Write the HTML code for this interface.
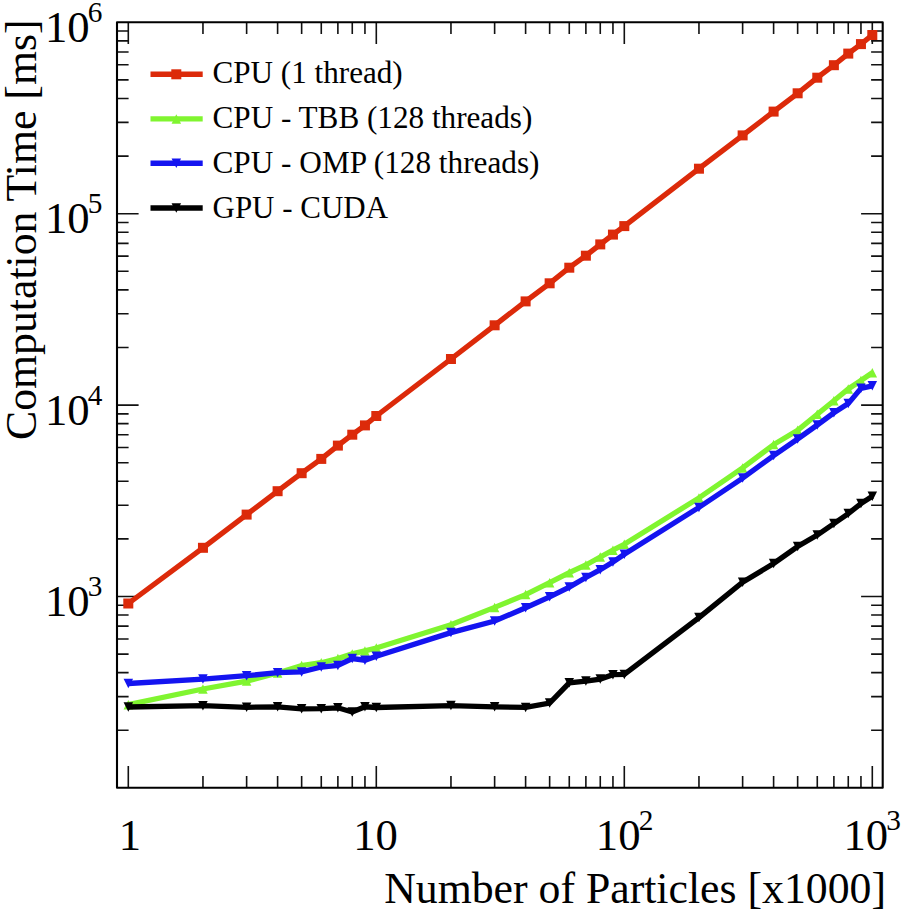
<!DOCTYPE html>
<html><head><meta charset="utf-8"><style>
html,body{margin:0;padding:0;background:#fff;}
svg{display:block;}
text{font-family:"Liberation Serif",serif;fill:#000;}
.ax{font-size:44.7px;}
.sup{font-size:29.3px;}
.lg{font-size:31px;}
.ti{font-size:43.75px;}
</style></head><body>
<svg width="901" height="914" viewBox="0 0 901 914">
<rect width="901" height="914" fill="#fff"/>
<path d="M128.30 787.70V766.10M128.30 22.30V43.90M202.96 787.70V776.10M202.96 22.30V33.90M246.63 787.70V776.10M246.63 22.30V33.90M277.61 787.70V776.10M277.61 22.30V33.90M301.64 787.70V776.10M301.64 22.30V33.90M321.28 787.70V776.10M321.28 22.30V33.90M337.88 787.70V776.10M337.88 22.30V33.90M352.27 787.70V776.10M352.27 22.30V33.90M364.95 787.70V776.10M364.95 22.30V33.90M376.30 787.70V766.10M376.30 22.30V43.90M450.96 787.70V776.10M450.96 22.30V33.90M494.63 787.70V776.10M494.63 22.30V33.90M525.61 787.70V776.10M525.61 22.30V33.90M549.64 787.70V776.10M549.64 22.30V33.90M569.28 787.70V776.10M569.28 22.30V33.90M585.88 787.70V776.10M585.88 22.30V33.90M600.27 787.70V776.10M600.27 22.30V33.90M612.95 787.70V776.10M612.95 22.30V33.90M624.30 787.70V766.10M624.30 22.30V43.90M698.96 787.70V776.10M698.96 22.30V33.90M742.63 787.70V776.10M742.63 22.30V33.90M773.61 787.70V776.10M773.61 22.30V33.90M797.64 787.70V776.10M797.64 22.30V33.90M817.28 787.70V776.10M817.28 22.30V33.90M833.88 787.70V776.10M833.88 22.30V33.90M848.27 787.70V776.10M848.27 22.30V33.90M860.95 787.70V776.10M860.95 22.30V33.90M872.30 787.70V766.10M872.30 22.30V43.90M117.00 730.28H128.60M882.70 730.28H871.10M117.00 696.58H128.60M882.70 696.58H871.10M117.00 672.67H128.60M882.70 672.67H871.10M117.00 654.12H128.60M882.70 654.12H871.10M117.00 638.96H128.60M882.70 638.96H871.10M117.00 626.15H128.60M882.70 626.15H871.10M117.00 615.05H128.60M882.70 615.05H871.10M117.00 605.26H128.60M882.70 605.26H871.10M117.00 596.50H138.60M882.70 596.50H861.10M117.00 538.88H128.60M882.70 538.88H871.10M117.00 505.18H128.60M882.70 505.18H871.10M117.00 481.27H128.60M882.70 481.27H871.10M117.00 462.72H128.60M882.70 462.72H871.10M117.00 447.56H128.60M882.70 447.56H871.10M117.00 434.75H128.60M882.70 434.75H871.10M117.00 423.65H128.60M882.70 423.65H871.10M117.00 413.86H128.60M882.70 413.86H871.10M117.00 405.10H138.60M882.70 405.10H861.10M117.00 347.48H128.60M882.70 347.48H871.10M117.00 313.78H128.60M882.70 313.78H871.10M117.00 289.87H128.60M882.70 289.87H871.10M117.00 271.32H128.60M882.70 271.32H871.10M117.00 256.16H128.60M882.70 256.16H871.10M117.00 243.35H128.60M882.70 243.35H871.10M117.00 232.25H128.60M882.70 232.25H871.10M117.00 222.46H128.60M882.70 222.46H871.10M117.00 213.70H138.60M882.70 213.70H861.10M117.00 156.08H128.60M882.70 156.08H871.10M117.00 122.38H128.60M882.70 122.38H871.10M117.00 98.47H128.60M882.70 98.47H871.10M117.00 79.92H128.60M882.70 79.92H871.10M117.00 64.76H128.60M882.70 64.76H871.10M117.00 51.95H128.60M882.70 51.95H871.10M117.00 40.85H128.60M882.70 40.85H871.10M117.00 31.06H128.60M882.70 31.06H871.10" stroke="#111" stroke-width="1.6" fill="none"/>
<rect x="117.0" y="22.3" width="765.70" height="765.40" fill="none" stroke="#000" stroke-width="2.1" stroke-linejoin="round"/>
<polyline points="128.30,603.50 202.96,547.80 246.63,514.60 277.61,491.20 301.64,473.20 321.28,458.90 337.88,445.60 352.27,434.70 364.95,425.40 376.30,416.00 450.96,359.00 494.63,325.30 525.61,301.40 549.64,283.30 569.28,267.70 585.88,255.70 600.27,244.40 612.95,234.60 624.30,226.10 698.96,168.70 742.63,135.40 773.61,111.60 797.64,93.30 817.28,77.70 833.88,65.20 848.27,53.60 860.95,44.10 872.30,35.00" fill="none" stroke="#dc2a0a" stroke-width="5.3" stroke-linejoin="miter" stroke-miterlimit="2"/><rect x="123.30" y="598.50" width="10.00" height="10.00" fill="#dc2a0a"/><rect x="197.96" y="542.80" width="10.00" height="10.00" fill="#dc2a0a"/><rect x="241.63" y="509.60" width="10.00" height="10.00" fill="#dc2a0a"/><rect x="272.61" y="486.20" width="10.00" height="10.00" fill="#dc2a0a"/><rect x="296.64" y="468.20" width="10.00" height="10.00" fill="#dc2a0a"/><rect x="316.28" y="453.90" width="10.00" height="10.00" fill="#dc2a0a"/><rect x="332.88" y="440.60" width="10.00" height="10.00" fill="#dc2a0a"/><rect x="347.27" y="429.70" width="10.00" height="10.00" fill="#dc2a0a"/><rect x="359.95" y="420.40" width="10.00" height="10.00" fill="#dc2a0a"/><rect x="371.30" y="411.00" width="10.00" height="10.00" fill="#dc2a0a"/><rect x="445.96" y="354.00" width="10.00" height="10.00" fill="#dc2a0a"/><rect x="489.63" y="320.30" width="10.00" height="10.00" fill="#dc2a0a"/><rect x="520.61" y="296.40" width="10.00" height="10.00" fill="#dc2a0a"/><rect x="544.64" y="278.30" width="10.00" height="10.00" fill="#dc2a0a"/><rect x="564.28" y="262.70" width="10.00" height="10.00" fill="#dc2a0a"/><rect x="580.88" y="250.70" width="10.00" height="10.00" fill="#dc2a0a"/><rect x="595.27" y="239.40" width="10.00" height="10.00" fill="#dc2a0a"/><rect x="607.95" y="229.60" width="10.00" height="10.00" fill="#dc2a0a"/><rect x="619.30" y="221.10" width="10.00" height="10.00" fill="#dc2a0a"/><rect x="693.96" y="163.70" width="10.00" height="10.00" fill="#dc2a0a"/><rect x="737.63" y="130.40" width="10.00" height="10.00" fill="#dc2a0a"/><rect x="768.61" y="106.60" width="10.00" height="10.00" fill="#dc2a0a"/><rect x="792.64" y="88.30" width="10.00" height="10.00" fill="#dc2a0a"/><rect x="812.28" y="72.70" width="10.00" height="10.00" fill="#dc2a0a"/><rect x="828.88" y="60.20" width="10.00" height="10.00" fill="#dc2a0a"/><rect x="843.27" y="48.60" width="10.00" height="10.00" fill="#dc2a0a"/><rect x="855.95" y="39.10" width="10.00" height="10.00" fill="#dc2a0a"/><rect x="867.30" y="30.00" width="10.00" height="10.00" fill="#dc2a0a"/>
<polyline points="128.30,704.70 202.96,689.00 246.63,681.10 277.61,673.00 301.64,665.50 321.28,662.70 337.88,658.60 352.27,653.90 364.95,650.90 376.30,648.00 450.96,624.80 494.63,607.40 525.61,594.60 549.64,582.70 569.28,572.70 585.88,565.00 600.27,557.00 612.95,550.20 624.30,544.30 698.96,497.90 742.63,467.90 773.61,444.60 797.64,430.20 817.28,414.30 833.88,400.80 848.27,389.00 860.95,380.50 872.30,372.80" fill="none" stroke="#80f530" stroke-width="5.3" stroke-linejoin="miter" stroke-miterlimit="2"/><polygon points="123.55,709.45 133.05,709.45 128.30,699.95" fill="#80f530"/><polygon points="198.21,693.75 207.71,693.75 202.96,684.25" fill="#80f530"/><polygon points="241.88,685.85 251.38,685.85 246.63,676.35" fill="#80f530"/><polygon points="272.86,677.75 282.36,677.75 277.61,668.25" fill="#80f530"/><polygon points="296.89,670.25 306.39,670.25 301.64,660.75" fill="#80f530"/><polygon points="316.53,667.45 326.03,667.45 321.28,657.95" fill="#80f530"/><polygon points="333.13,663.35 342.63,663.35 337.88,653.85" fill="#80f530"/><polygon points="347.52,658.65 357.02,658.65 352.27,649.15" fill="#80f530"/><polygon points="360.20,655.65 369.70,655.65 364.95,646.15" fill="#80f530"/><polygon points="371.55,652.75 381.05,652.75 376.30,643.25" fill="#80f530"/><polygon points="446.21,629.55 455.71,629.55 450.96,620.05" fill="#80f530"/><polygon points="489.88,612.15 499.38,612.15 494.63,602.65" fill="#80f530"/><polygon points="520.86,599.35 530.36,599.35 525.61,589.85" fill="#80f530"/><polygon points="544.89,587.45 554.39,587.45 549.64,577.95" fill="#80f530"/><polygon points="564.53,577.45 574.03,577.45 569.28,567.95" fill="#80f530"/><polygon points="581.13,569.75 590.63,569.75 585.88,560.25" fill="#80f530"/><polygon points="595.52,561.75 605.02,561.75 600.27,552.25" fill="#80f530"/><polygon points="608.20,554.95 617.70,554.95 612.95,545.45" fill="#80f530"/><polygon points="619.55,549.05 629.05,549.05 624.30,539.55" fill="#80f530"/><polygon points="694.21,502.65 703.71,502.65 698.96,493.15" fill="#80f530"/><polygon points="737.88,472.65 747.38,472.65 742.63,463.15" fill="#80f530"/><polygon points="768.86,449.35 778.36,449.35 773.61,439.85" fill="#80f530"/><polygon points="792.89,434.95 802.39,434.95 797.64,425.45" fill="#80f530"/><polygon points="812.53,419.05 822.03,419.05 817.28,409.55" fill="#80f530"/><polygon points="829.13,405.55 838.63,405.55 833.88,396.05" fill="#80f530"/><polygon points="843.52,393.75 853.02,393.75 848.27,384.25" fill="#80f530"/><polygon points="856.20,385.25 865.70,385.25 860.95,375.75" fill="#80f530"/><polygon points="867.55,377.55 877.05,377.55 872.30,368.05" fill="#80f530"/>
<polyline points="128.30,683.50 202.96,679.10 246.63,675.70 277.61,672.70 301.64,671.90 321.28,667.00 337.88,665.40 352.27,658.50 364.95,660.20 376.30,656.20 450.96,632.60 494.63,621.00 525.61,607.70 549.64,596.80 569.28,587.10 585.88,577.50 600.27,569.70 612.95,562.10 624.30,554.20 698.96,507.40 742.63,478.10 773.61,455.60 797.64,439.00 817.28,425.00 833.88,412.80 848.27,403.60 860.95,388.30 872.30,385.80" fill="none" stroke="#1414f0" stroke-width="5.3" stroke-linejoin="miter" stroke-miterlimit="2"/><polygon points="123.55,678.75 133.05,678.75 128.30,688.25" fill="#1414f0"/><polygon points="198.21,674.35 207.71,674.35 202.96,683.85" fill="#1414f0"/><polygon points="241.88,670.95 251.38,670.95 246.63,680.45" fill="#1414f0"/><polygon points="272.86,667.95 282.36,667.95 277.61,677.45" fill="#1414f0"/><polygon points="296.89,667.15 306.39,667.15 301.64,676.65" fill="#1414f0"/><polygon points="316.53,662.25 326.03,662.25 321.28,671.75" fill="#1414f0"/><polygon points="333.13,660.65 342.63,660.65 337.88,670.15" fill="#1414f0"/><polygon points="347.52,653.75 357.02,653.75 352.27,663.25" fill="#1414f0"/><polygon points="360.20,655.45 369.70,655.45 364.95,664.95" fill="#1414f0"/><polygon points="371.55,651.45 381.05,651.45 376.30,660.95" fill="#1414f0"/><polygon points="446.21,627.85 455.71,627.85 450.96,637.35" fill="#1414f0"/><polygon points="489.88,616.25 499.38,616.25 494.63,625.75" fill="#1414f0"/><polygon points="520.86,602.95 530.36,602.95 525.61,612.45" fill="#1414f0"/><polygon points="544.89,592.05 554.39,592.05 549.64,601.55" fill="#1414f0"/><polygon points="564.53,582.35 574.03,582.35 569.28,591.85" fill="#1414f0"/><polygon points="581.13,572.75 590.63,572.75 585.88,582.25" fill="#1414f0"/><polygon points="595.52,564.95 605.02,564.95 600.27,574.45" fill="#1414f0"/><polygon points="608.20,557.35 617.70,557.35 612.95,566.85" fill="#1414f0"/><polygon points="619.55,549.45 629.05,549.45 624.30,558.95" fill="#1414f0"/><polygon points="694.21,502.65 703.71,502.65 698.96,512.15" fill="#1414f0"/><polygon points="737.88,473.35 747.38,473.35 742.63,482.85" fill="#1414f0"/><polygon points="768.86,450.85 778.36,450.85 773.61,460.35" fill="#1414f0"/><polygon points="792.89,434.25 802.39,434.25 797.64,443.75" fill="#1414f0"/><polygon points="812.53,420.25 822.03,420.25 817.28,429.75" fill="#1414f0"/><polygon points="829.13,408.05 838.63,408.05 833.88,417.55" fill="#1414f0"/><polygon points="843.52,398.85 853.02,398.85 848.27,408.35" fill="#1414f0"/><polygon points="856.20,383.55 865.70,383.55 860.95,393.05" fill="#1414f0"/><polygon points="867.55,381.05 877.05,381.05 872.30,390.55" fill="#1414f0"/>
<polyline points="128.30,707.00 202.96,705.70 246.63,707.30 277.61,706.80 301.64,708.80 321.28,708.70 337.88,707.80 352.27,712.00 364.95,706.80 376.30,707.50 450.96,705.60 494.63,706.80 525.61,707.40 549.64,703.00 569.28,682.80 585.88,681.10 600.27,679.10 612.95,674.70 624.30,674.40 698.96,617.60 742.63,582.20 773.61,563.50 797.64,546.50 817.28,535.10 833.88,523.60 848.27,513.60 860.95,503.60 872.30,496.30" fill="none" stroke="#000000" stroke-width="5.3" stroke-linejoin="miter" stroke-miterlimit="2"/><polygon points="123.55,702.25 133.05,702.25 128.30,711.75" fill="#000000"/><polygon points="198.21,700.95 207.71,700.95 202.96,710.45" fill="#000000"/><polygon points="241.88,702.55 251.38,702.55 246.63,712.05" fill="#000000"/><polygon points="272.86,702.05 282.36,702.05 277.61,711.55" fill="#000000"/><polygon points="296.89,704.05 306.39,704.05 301.64,713.55" fill="#000000"/><polygon points="316.53,703.95 326.03,703.95 321.28,713.45" fill="#000000"/><polygon points="333.13,703.05 342.63,703.05 337.88,712.55" fill="#000000"/><polygon points="347.52,707.25 357.02,707.25 352.27,716.75" fill="#000000"/><polygon points="360.20,702.05 369.70,702.05 364.95,711.55" fill="#000000"/><polygon points="371.55,702.75 381.05,702.75 376.30,712.25" fill="#000000"/><polygon points="446.21,700.85 455.71,700.85 450.96,710.35" fill="#000000"/><polygon points="489.88,702.05 499.38,702.05 494.63,711.55" fill="#000000"/><polygon points="520.86,702.65 530.36,702.65 525.61,712.15" fill="#000000"/><polygon points="544.89,698.25 554.39,698.25 549.64,707.75" fill="#000000"/><polygon points="564.53,678.05 574.03,678.05 569.28,687.55" fill="#000000"/><polygon points="581.13,676.35 590.63,676.35 585.88,685.85" fill="#000000"/><polygon points="595.52,674.35 605.02,674.35 600.27,683.85" fill="#000000"/><polygon points="608.20,669.95 617.70,669.95 612.95,679.45" fill="#000000"/><polygon points="619.55,669.65 629.05,669.65 624.30,679.15" fill="#000000"/><polygon points="694.21,612.85 703.71,612.85 698.96,622.35" fill="#000000"/><polygon points="737.88,577.45 747.38,577.45 742.63,586.95" fill="#000000"/><polygon points="768.86,558.75 778.36,558.75 773.61,568.25" fill="#000000"/><polygon points="792.89,541.75 802.39,541.75 797.64,551.25" fill="#000000"/><polygon points="812.53,530.35 822.03,530.35 817.28,539.85" fill="#000000"/><polygon points="829.13,518.85 838.63,518.85 833.88,528.35" fill="#000000"/><polygon points="843.52,508.85 853.02,508.85 848.27,518.35" fill="#000000"/><polygon points="856.20,498.85 865.70,498.85 860.95,508.35" fill="#000000"/><polygon points="867.55,491.55 877.05,491.55 872.30,501.05" fill="#000000"/>
<line x1="150.5" y1="74.3" x2="202.7" y2="74.3" stroke="#dc2a0a" stroke-width="5.3999999999999995"/>
<rect x="171.30" y="69.30" width="10.00" height="10.00" fill="#dc2a0a"/>
<text x="212.5" y="82.50" class="lg" textLength="190.2" lengthAdjust="spacingAndGlyphs">CPU (1 thread)</text>
<line x1="150.5" y1="118.9" x2="202.7" y2="118.9" stroke="#80f530" stroke-width="5.3999999999999995"/>
<polygon points="171.55,123.65 181.05,123.65 176.30,114.15" fill="#80f530"/>
<text x="212.5" y="127.90" class="lg" textLength="319.8" lengthAdjust="spacingAndGlyphs">CPU - TBB (128 threads)</text>
<line x1="150.5" y1="163.3" x2="202.7" y2="163.3" stroke="#1414f0" stroke-width="5.3999999999999995"/>
<polygon points="171.55,158.55 181.05,158.55 176.30,168.05" fill="#1414f0"/>
<text x="212.5" y="173.20" class="lg" textLength="327.0" lengthAdjust="spacingAndGlyphs">CPU - OMP (128 threads)</text>
<line x1="150.5" y1="208.0" x2="202.7" y2="208.0" stroke="#000000" stroke-width="5.3999999999999995"/>
<polygon points="171.55,203.25 181.05,203.25 176.30,212.75" fill="#000000"/>
<text x="212.5" y="218.00" class="lg" textLength="175.6" lengthAdjust="spacingAndGlyphs">GPU - CUDA</text>
<text x="102.5" y="41.8" class="ax" text-anchor="end">10<tspan class="sup" dx="-1.8" dy="-19.8">6</tspan></text>
<text x="102.5" y="233.1" class="ax" text-anchor="end">10<tspan class="sup" dx="-1.8" dy="-19.8">5</tspan></text>
<text x="102.5" y="424.7" class="ax" text-anchor="end">10<tspan class="sup" dx="-1.8" dy="-19.8">4</tspan></text>
<text x="102.5" y="615.8" class="ax" text-anchor="end">10<tspan class="sup" dx="-1.8" dy="-19.8">3</tspan></text>
<text x="129.8" y="850" class="ax" text-anchor="middle">1</text>
<text x="375.5" y="850" class="ax" text-anchor="middle">10</text>
<text x="624.6" y="850" class="ax" text-anchor="middle">10<tspan class="sup" dx="-1.8" dy="-19.8">2</tspan></text>
<text x="872.2" y="850" class="ax" text-anchor="middle">10<tspan class="sup" dx="-1.8" dy="-19.8">3</tspan></text>
<text x="886" y="902.5" class="ti" text-anchor="end">Number of Particles [x1000]</text>
<text transform="translate(35.6,440) rotate(-90)" class="ti">Computation Time [ms]</text>
</svg>
</body></html>
